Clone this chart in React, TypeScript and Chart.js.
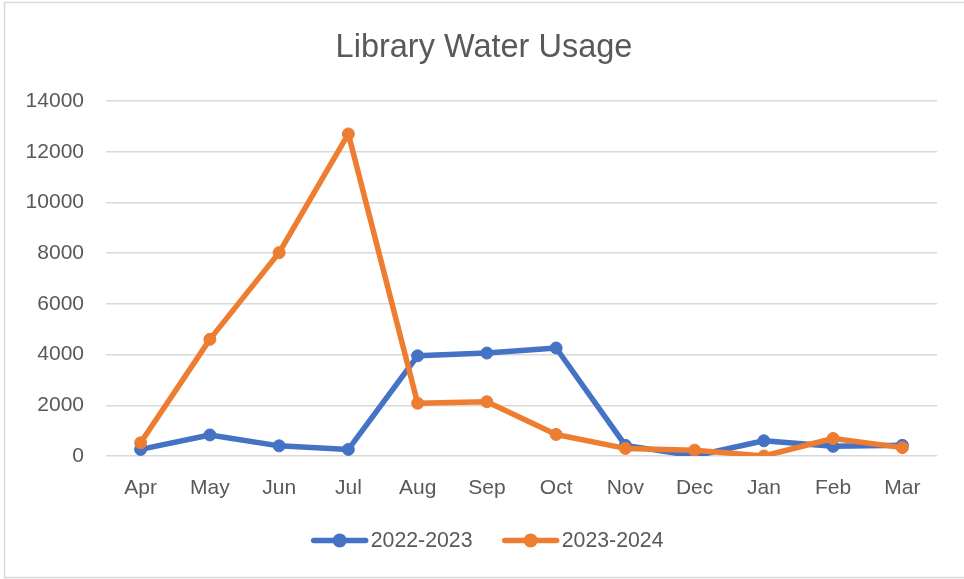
import React, { useEffect, useRef } from "react";
import { Chart, registerables } from "chart.js";

Chart.register(...registerables);

const months = ["Apr", "May", "Jun", "Jul", "Aug", "Sep", "Oct", "Nov", "Dec", "Jan", "Feb", "Mar"];
const usage2022 = [260, 830, 400, 260, 3950, 4060, 4260, 420, 0, 600, 380, 420];
const usage2023 = [520, 4600, 8020, 12700, 2080, 2140, 850, 300, 230, 0, 690, 330];
const seriesNames = ["2022-2023", "2023-2024"];
const seriesColors = ["#4472C4", "#ED7D31"];
const chartTitle = "Library Water Usage";

const FONT = "'Liberation Sans', Arial, sans-serif";
const TEXT = "#595959";

const decorPlugin = {
  id: "decor",
  beforeDraw(chart: any) {
    const ctx = chart.ctx;
    ctx.save();
    ctx.fillStyle = "#ffffff";
    ctx.fillRect(0, 0, chart.width, chart.height);
    ctx.strokeStyle = "#d9d9d9";
    ctx.lineWidth = 1.5;
    ctx.strokeRect(4.5, 2.5, chart.width + 10, chart.height - 4);
    ctx.restore();
  },
  afterDraw(chart: any) {
    const ctx = chart.ctx;
    ctx.save();
    ctx.fillStyle = TEXT;
    ctx.font = `32.5px ${FONT}`;
    ctx.textAlign = "center";
    ctx.textBaseline = "alphabetic";
    ctx.fillText(chartTitle, 484, 57);

    // legend
    const starts = [311.7, 502.7];
    chart.data.datasets.forEach((ds: any, i: number) => {
      const x0 = starts[i];
      const y = 540.5;
      ctx.strokeStyle = ds.borderColor;
      ctx.lineWidth = 5.5;
      ctx.lineCap = "round";
      ctx.beginPath();
      ctx.moveTo(x0 + 2, y);
      ctx.lineTo(x0 + 54, y);
      ctx.stroke();
      ctx.fillStyle = ds.borderColor;
      ctx.beginPath();
      ctx.arc(x0 + 28, y, 7, 0, Math.PI * 2);
      ctx.fill();
      ctx.fillStyle = TEXT;
      ctx.font = `21.3px ${FONT}`;
      ctx.textAlign = "left";
      ctx.textBaseline = "alphabetic";
      ctx.fillText(ds.label, x0 + 59, 547);
    });
    ctx.restore();
  },
};

export default function App() {
  const ref = useRef<HTMLCanvasElement | null>(null);

  useEffect(() => {
    document.body.style.margin = "0";
    const canvas = ref.current;
    if (!canvas) return;
    const values = [usage2022, usage2023];
    const chart = new Chart(canvas, {
      type: "line",
      data: {
        labels: months,
        datasets: values.map((v, i) => ({
          label: seriesNames[i],
          data: v,
          borderColor: seriesColors[i],
          backgroundColor: seriesColors[i],
          pointBackgroundColor: seriesColors[i],
          pointBorderColor: seriesColors[i],
          borderWidth: 5.5,
          pointRadius: 6,
          pointBorderWidth: 1,
          borderJoinStyle: "round",
          borderCapStyle: "round",
          tension: 0,
          order: i === 0 ? 1 : 0,
        })),
      },
      options: {
        responsive: false,
        animation: false,
        layout: { padding: { top: 101, right: 27, bottom: 0, left: 0 } },
        plugins: {
          legend: { display: false },
          title: { display: false },
          tooltip: { enabled: false },
        },
        scales: {
          x: {
            offset: true,
            grid: { display: false, drawTicks: false },
            border: { display: false },
            ticks: { color: TEXT, font: { family: FONT, size: 21 }, padding: 20, maxRotation: 0, autoSkip: false },
            afterFit(scale: any) {
              scale.height = 123;
            },
          },
          y: {
            min: 0,
            max: 14000,
            ticks: {
              stepSize: 2000,
              color: TEXT,
              font: { family: FONT, size: 21 },
              padding: 22,
              callback: (v: any) => String(v),
            },
            grid: { color: "#d9d9d9", lineWidth: 1.5, drawTicks: false },
            border: { display: false },
            afterFit(scale: any) {
              scale.width = 106;
            },
          },
        },
      },
      plugins: [decorPlugin],
    } as any);
    return () => chart.destroy();
  }, []);

  return (
    <div style={{ position: "fixed", left: 0, top: 0, width: 964, height: 579 }}>
      <canvas ref={ref} width={964} height={579} />
    </div>
  );
}
